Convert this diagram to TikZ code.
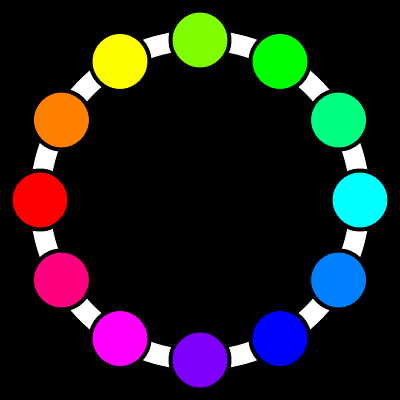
\documentclass[tikz,border=0pt]{standalone}
\usepackage{xcolor}
\usepackage{tikz}
\definecolor{hue0}{RGB}{255,0,0}
\definecolor{hue1}{RGB}{255,128,0}
\definecolor{hue2}{RGB}{255,255,0}
\definecolor{hue3}{RGB}{128,255,0}
\definecolor{hue4}{RGB}{0,255,0}
\definecolor{hue5}{RGB}{0,255,128}
\definecolor{hue6}{RGB}{0,255,255}
\definecolor{hue7}{RGB}{0,128,255}
\definecolor{hue8}{RGB}{0,0,255}
\definecolor{hue9}{RGB}{128,0,255}
\definecolor{hue10}{RGB}{255,0,255}
\definecolor{hue11}{RGB}{255,0,128}
\tikzset{
  huedot/.style={circle, minimum size=0.59cm, inner sep=0pt, draw=black, line width=0.04cm},
}
\begin{document}
\begin{tikzpicture}
% background, 400x400 px at 0.01cm per px
\fill[black] (-2,-2) rectangle (2,2);
\useasboundingbox (-2,-2) rectangle (2,2);
% white ring
\draw[white, line width=0.2cm] (0,0) circle (1.6);
% colour wheel dots
\foreach \k in {0,...,11} {
  \node[huedot, fill=hue\k] (dot\k) at ({180-30*\k}:1.6) {};
}
\end{tikzpicture}
\end{document}
